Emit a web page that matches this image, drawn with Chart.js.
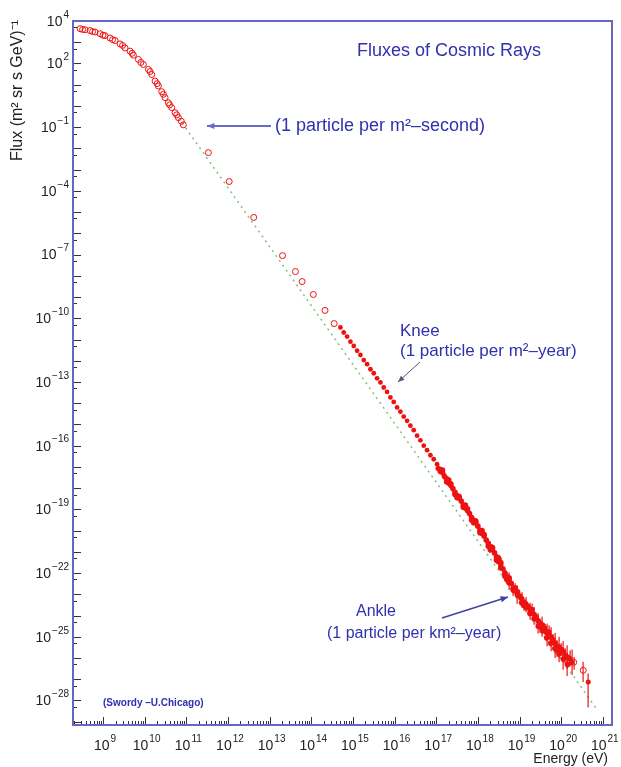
<!DOCTYPE html>
<html>
<head>
<meta charset="utf-8">
<script src="https://cdn.jsdelivr.net/npm/chart.js@4"></script>
<style>
  html, body { margin: 0; padding: 0; background: #fff; }
  #wrap { position: relative; width: 621px; height: 767px; }
</style>
</head>
<body>
<div id="wrap"><canvas id="chartFlux"></canvas></div>
<script>
// all values are log10 numbers (energy in eV, flux in (m^2 sr s GeV)^-1)

// low energy: open circles
const lowLogE = [8.45, 8.57, 8.69, 8.81, 8.93, 9.05, 9.17, 9.29, 9.41, 9.53, 9.65, 9.73, 9.85, 9.97,
  10.09, 10.17, 10.25, 10.33, 10.41, 10.49, 10.57, 10.65, 10.73, 10.81, 10.93,
  11.53, 12.03, 12.62, 13.31, 13.62, 13.78, 14.05, 14.33, 14.55];
const lowLogFlux = [3.64, 3.59, 3.55, 3.48, 3.40, 3.31, 3.20, 3.08, 2.92, 2.73, 2.58, 2.39, 2.19, 1.95,
  1.72, 1.48, 1.17, 0.94, 0.67, 0.39, 0.15, -0.08, -0.32, -0.55, -0.89,
  -2.20, -3.56, -5.25, -7.05, -7.80, -8.27, -8.88, -9.63, -10.25];

// second low energy set (overlaps the first)
const low2LogE = [8.51, 8.75, 9.00, 9.23, 9.47, 9.70, 9.91, 10.13, 10.30, 10.45, 10.60, 10.77, 10.88];
const low2LogFlux = [3.60, 3.50, 3.33, 3.12, 2.85, 2.48, 2.05, 1.62, 1.05, 0.55, 0.05, -0.42, -0.72];

// knee region: small filled dots
const kneeLogE = [14.70, 14.78, 14.86, 14.94, 15.02, 15.10, 15.18, 15.26, 15.34, 15.42, 15.50, 15.58,
  15.66, 15.74, 15.82, 15.90, 15.98, 16.06, 16.14, 16.22, 16.30, 16.38, 16.46, 16.54, 16.62, 16.70,
  16.78, 16.86, 16.94, 17.02, 17.10, 17.18];
const kneeLogFlux = [-10.43, -10.67, -10.86, -11.10, -11.30, -11.53, -11.73, -11.97, -12.16, -12.40,
  -12.59, -12.83, -13.02, -13.26, -13.47, -13.73, -13.94, -14.20, -14.40, -14.63, -14.83, -15.06,
  -15.27, -15.53, -15.75, -16.00, -16.21, -16.45, -16.64, -16.87, -17.10, -17.38];

// ankle region: several experiments with error bars
const ankleALogE = [17.20, 17.30, 17.40, 17.50, 17.60, 17.70, 17.80, 17.90, 18.00, 18.10, 18.20, 18.30,
  18.40, 18.50, 18.60, 18.70, 18.80, 18.90, 19.00, 19.10, 19.20, 19.30, 19.40, 19.50, 19.60, 19.70,
  19.80, 19.90, 20.00, 20.10, 20.20];
const ankleALogFlux = [-17.45, -17.76, -18.02, -18.35, -18.61, -18.93, -19.20, -19.52, -19.79, -20.13,
  -20.44, -20.76, -21.05, -21.45, -21.80, -22.18, -22.48, -22.84, -23.08, -23.37, -23.58, -23.86,
  -24.08, -24.37, -24.60, -24.92, -25.13, -25.44, -25.60, -25.88, -26.02];
const ankleAErr = [0.03, 0.03, 0.03, 0.04, 0.04, 0.04, 0.05, 0.05, 0.05, 0.06, 0.06, 0.07, 0.07, 0.08,
  0.08, 0.09, 0.10, 0.10, 0.12, 0.13, 0.14, 0.15, 0.16, 0.18, 0.20, 0.22, 0.25, 0.28, 0.30, 0.34, 0.38];

const ankleBLogE = [17.15, 17.25, 17.35, 17.45, 17.55, 17.65, 17.75, 17.85, 17.95, 18.05, 18.15, 18.25,
  18.35, 18.45, 18.55, 18.65, 18.75, 18.85, 18.95, 19.05, 19.15, 19.25, 19.35, 19.45, 19.55, 19.65,
  19.75, 19.85, 19.95, 20.05, 20.15, 20.25];
const ankleBLogFlux = [-17.25, -17.56, -17.86, -18.20, -18.46, -18.80, -19.05, -19.38, -19.62, -19.98,
  -20.25, -20.60, -20.85, -21.25, -21.60, -22.00, -22.30, -22.70, -22.90, -23.20, -23.45, -23.70,
  -23.95, -24.25, -24.45, -24.80, -25.00, -25.30, -25.50, -25.70, -25.95, -26.20];
const ankleBErr = [0.05, 0.05, 0.06, 0.06, 0.07, 0.07, 0.08, 0.08, 0.09, 0.10, 0.10, 0.12, 0.13, 0.15,
  0.17, 0.20, 0.22, 0.25, 0.28, 0.30, 0.32, 0.30, 0.34, 0.36, 0.40, 0.42, 0.45, 0.48, 0.50, 0.50, 0.55, 0.60];

const ankleCLogE = [18.45, 18.55, 18.65, 18.75, 18.85, 18.95, 19.05, 19.15, 19.25, 19.35, 19.45, 19.55,
  19.65, 19.75, 19.85, 19.95, 20.05, 20.15];
const ankleCLogFlux = [-21.35, -21.75, -22.05, -22.45, -22.75, -23.05, -23.40, -23.60, -23.90, -24.15,
  -24.50, -24.70, -25.05, -25.30, -25.55, -25.80, -26.05, -26.30];
const ankleCErr = [0.10, 0.12, 0.15, 0.35, 0.18, 0.40, 0.22, 0.25, 0.30, 0.28, 0.35, 0.30, 0.40, 0.38,
  0.45, 0.40, 0.50, 0.55];

const ankleDLogE = [17.05, 17.15, 17.25, 17.35, 17.45, 17.55, 17.65, 17.75, 17.85, 17.95, 18.05, 18.15,
  18.25, 18.35, 18.45, 18.55, 18.65, 18.75, 18.85, 18.95];
const ankleDLogFlux = [-17.08, -17.15, -17.70, -17.80, -18.30, -18.40, -18.90, -18.97, -19.50, -19.55,
  -20.10, -20.18, -20.74, -20.80, -21.40, -21.50, -22.15, -22.22, -22.80, -22.88];
const ankleDErr = [0.06, 0.06, 0.07, 0.07, 0.08, 0.08, 0.09, 0.10, 0.10, 0.12, 0.12, 0.14, 0.15, 0.16,
  0.18, 0.20, 0.22, 0.25, 0.28, 0.30];

const ankleELogE = [17.10, 17.30, 17.50, 17.70, 17.90, 18.10, 18.30, 18.50, 18.70, 18.90, 19.10, 19.30,
  19.50, 19.70, 19.90];
const ankleELogFlux = [-17.22, -17.62, -18.45, -18.80, -19.63, -20.00, -20.90, -21.30, -22.32, -22.70,
  -23.52, -23.72, -24.52, -24.78, -25.60];
const ankleEErr = [0.08, 0.08, 0.10, 0.10, 0.12, 0.12, 0.15, 0.16, 0.20, 0.22, 0.26, 0.28, 0.30, 0.32, 0.35];

// highest energy points
const tailOpenLogE = [20.30, 20.53];
const tailOpenLogFlux = [-26.20, -26.58];
const tailOpenErrUp = [0.25, 0.40];
const tailOpenErrDown = [0.35, 0.55];
const tailFilledLogE = [20.65];
const tailFilledLogFlux = [-27.13];
const tailFilledErrUp = [0.40];
const tailFilledErrDown = [1.20];

// dotted reference power law (two end points)
const lineLogE = [10.90, 20.85];
const lineLogFlux = [-0.80, -28.40];

// axis ranges and labelled decades
const xRange = [8.28, 21.22];
const yRange = [-29.15, 4.0];
const xLabelExp = [9, 10, 11, 12, 13, 14, 15, 16, 17, 18, 19, 20, 21];
const yLabelExp = [4, 2, -1, -4, -7, -10, -13, -16, -19, -22, -25, -28];

const toPts = (lx, ly) => lx.map((v, i) => ({ x: 10 ** v, y: 10 ** ly[i] }));

const RED = "#ee1111";
const BLUE = "#3030b0";
const FONT = "'Liberation Sans', Arial, Helvetica, sans-serif";

// vertical error bars, drawn as thin filled rects through the chart scales
const errorBars = {
  id: "errorBars",
  afterDatasetsDraw(chart) {
    const { ctx, scales: { x, y } } = chart;
    ctx.save();
    ctx.fillStyle = "rgb(235, 20, 20)";
    chart.data.datasets.forEach(ds => {
      if (!ds.errUp) return;
      ds.data.forEach((p, i) => {
        const px = Math.round(x.getPixelForValue(p.x));
        const lp = Math.log10(p.y);
        const yt = y.getPixelForValue(10 ** (lp + ds.errUp[i]));
        const yb = y.getPixelForValue(10 ** (lp - ds.errDown[i]));
        ctx.fillRect(px - 0.5, yt, 1.2, yb - yt);
      });
    });
    ctx.restore();
  }
};

function drawPow(ctx, exp, x, y, align) {
  const base = "10", sup = String(exp).replace("-", "\u2212");
  ctx.font = "14px " + FONT;
  const wb = ctx.measureText(base).width;
  ctx.font = "10px " + FONT;
  const ws = ctx.measureText(sup).width;
  const x0 = align === "right" ? x - wb - ws - 1 : x - (wb + ws + 1) / 2;
  ctx.textAlign = "left";
  ctx.textBaseline = "middle";
  ctx.font = "14px " + FONT;
  ctx.fillText(base, x0, y);
  ctx.font = "10px " + FONT;
  ctx.fillText(sup, x0 + wb + 1, y - 7);
}

function arrow(ctx, x1, y1, x2, y2, color, w, head) {
  const a = Math.atan2(y2 - y1, x2 - x1);
  ctx.strokeStyle = color;
  ctx.fillStyle = color;
  ctx.lineWidth = w;
  ctx.beginPath();
  ctx.moveTo(x1, y1);
  ctx.lineTo(x2, y2);
  ctx.stroke();
  ctx.beginPath();
  ctx.moveTo(x2, y2);
  ctx.lineTo(x2 - head * Math.cos(a - 0.4), y2 - head * Math.sin(a - 0.4));
  ctx.lineTo(x2 - head * Math.cos(a + 0.4), y2 - head * Math.sin(a + 0.4));
  ctx.closePath();
  ctx.fill();
}

const rootFrame = {
  id: "rootFrame",
  afterDraw(chart) {
    const { ctx, chartArea: a, scales: { x, y } } = chart;
    ctx.save();

    // inside ticks
    ctx.strokeStyle = "#333";
    ctx.lineWidth = 1;
    for (let k = 8; k <= 21; k++) {
      for (let m = 1; m <= 9; m++) {
        const v = m * 10 ** k;
        if (v < x.min || v > x.max) continue;
        const px = Math.round(x.getPixelForValue(v)) + 0.5;
        const len = m === 1 ? 8 : 4;
        ctx.beginPath();
        ctx.moveTo(px, a.bottom);
        ctx.lineTo(px, a.bottom - len);
        ctx.stroke();
      }
    }
    for (let k = -30; k <= 4; k++) {
      [[1, 8], [5, 4]].forEach(([m, len]) => {
        const v = m * 10 ** k;
        if (v < y.min || v > y.max) return;
        const py = Math.round(y.getPixelForValue(v)) + 0.5;
        ctx.beginPath();
        ctx.moveTo(a.left, py);
        ctx.lineTo(a.left + len, py);
        ctx.stroke();
      });
    }

    // frame
    ctx.strokeStyle = "#6666c4";
    ctx.lineWidth = 2;
    ctx.strokeRect(a.left, a.top, a.right - a.left, a.bottom - a.top);

    // tick labels
    ctx.fillStyle = "#222";
    yLabelExp.forEach(e => drawPow(ctx, e, 69, y.getPixelForValue(10 ** e) + 1, "right"));
    xLabelExp.forEach(e => drawPow(ctx, e, x.getPixelForValue(10 ** e) + 2, 746, "center"));

    // axis titles
    ctx.font = "14px " + FONT;
    ctx.textAlign = "right";
    ctx.textBaseline = "middle";
    ctx.fillText("Energy (eV)", 608, 759);
    ctx.save();
    ctx.translate(18, 20);
    ctx.rotate(-Math.PI / 2);
    ctx.textAlign = "right";
    ctx.font = "16px " + FONT;
    ctx.fillText("Flux (m\u00b2 sr s GeV)\u207b\u00b9", 0, 0);
    ctx.restore();

    // title and notes
    ctx.fillStyle = BLUE;
    ctx.textAlign = "left";
    ctx.font = "18px " + FONT;
    ctx.fillText("Fluxes of Cosmic Rays", 357, 51);
    ctx.fillText("(1 particle per m\u00b2\u2013second)", 275, 126);
    ctx.font = "17px " + FONT;
    ctx.fillText("Knee", 400, 331);
    ctx.fillText("(1 particle per m\u00b2\u2013year)", 400, 351);
    ctx.font = "16px " + FONT;
    ctx.textAlign = "center";
    ctx.fillText("Ankle", 376, 612);
    ctx.textAlign = "left";
    ctx.fillText("(1 particle per km\u00b2\u2013year)", 327, 634);
    ctx.font = "bold 10px " + FONT;
    ctx.fillText("(Swordy \u2013U.Chicago)", 103, 703);

    arrow(ctx, 271, 126, 207, 126, "#6a6ac8", 2, 8);
    arrow(ctx, 420, 362, 398, 382, "#555577", 1, 7);
    arrow(ctx, 442, 618, 508, 597, "#4040a8", 1.5, 8);

    ctx.restore();
  }
};

const filled = (lx, ly, err, r) => ({
  data: toPts(lx, ly), pointRadius: r, borderWidth: 0, backgroundColor: RED,
  errUp: err, errDown: err, order: 2
});

new Chart(document.getElementById("chartFlux"), {
  type: "scatter",
  data: {
    datasets: [
      { data: toPts(lowLogE, lowLogFlux), pointStyle: "circle", pointRadius: 3, borderWidth: 1,
        borderColor: RED, backgroundColor: "rgba(0,0,0,0)", order: 2 },
      { data: toPts(low2LogE, low2LogFlux), pointStyle: "circle", pointRadius: 3, borderWidth: 1,
        borderColor: RED, backgroundColor: "rgba(0,0,0,0)", order: 2 },
      { data: toPts(kneeLogE, kneeLogFlux), pointRadius: 2.4, borderWidth: 0,
        backgroundColor: RED, order: 2 },
      filled(ankleALogE, ankleALogFlux, ankleAErr, 2.8),
      filled(ankleBLogE, ankleBLogFlux, ankleBErr, 2.8),
      filled(ankleCLogE, ankleCLogFlux, ankleCErr, 2.8),
      filled(ankleDLogE, ankleDLogFlux, ankleDErr, 2.8),
      filled(ankleELogE, ankleELogFlux, ankleEErr, 2.8),
      { data: toPts(tailOpenLogE, tailOpenLogFlux), pointRadius: 3, borderWidth: 1,
        borderColor: RED, backgroundColor: "rgba(0,0,0,0)",
        errUp: tailOpenErrUp, errDown: tailOpenErrDown, order: 2 },
      { data: toPts(tailFilledLogE, tailFilledLogFlux), pointRadius: 2.5, borderWidth: 0,
        backgroundColor: RED, errUp: tailFilledErrUp, errDown: tailFilledErrDown, order: 2 },
      { type: "line", data: toPts(lineLogE, lineLogFlux), showLine: true, pointRadius: 0,
        borderColor: "#7cc47c", borderWidth: 1.5, borderDash: [2, 4], order: 10 }
    ]
  },
  options: {
    responsive: true,
    maintainAspectRatio: false,
    animation: false,
    layout: { padding: { left: 73, top: 21, right: 9, bottom: 42 } },
    plugins: { legend: { display: false }, tooltip: { enabled: false } },
    scales: {
      x: { type: "logarithmic", display: false, min: 10 ** xRange[0], max: 10 ** xRange[1] },
      y: { type: "logarithmic", display: false, min: 10 ** yRange[0], max: 10 ** yRange[1] }
    }
  },
  plugins: [errorBars, rootFrame]
});
</script>
</body>
</html>
